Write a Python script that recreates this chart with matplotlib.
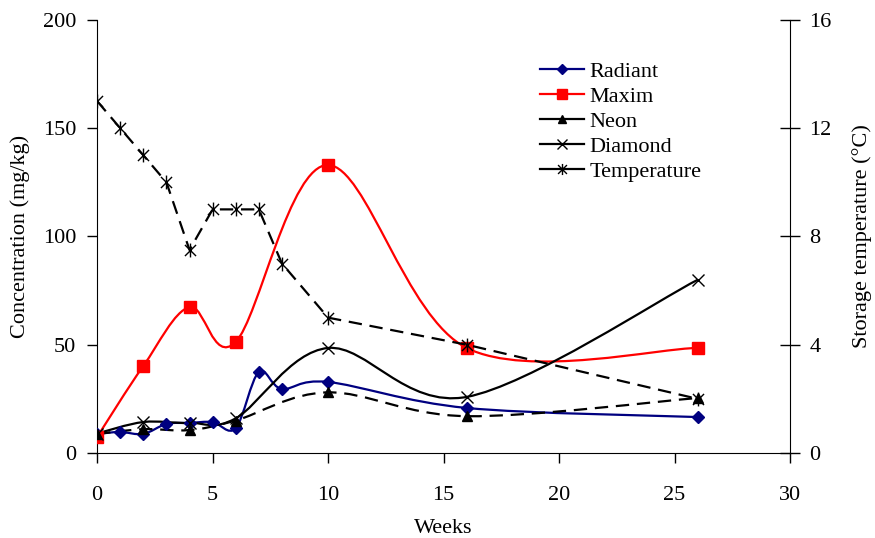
import numpy as np
import matplotlib
matplotlib.use("Agg")
import matplotlib.pyplot as plt
from matplotlib.path import Path
from matplotlib.patches import PathPatch
from matplotlib.lines import Line2D

plt.rcParams['font.family'] = ['Liberation Serif', 'DejaVu Serif']

# Data
radiant_x = [0, 1, 2, 3, 4, 5, 6, 7, 8, 10, 16, 26]
radiant_y = [8.8, 9.7, 8.8, 13.4, 13.9, 14.3, 11.5, 37.4, 29.6, 32.8, 20.8, 16.6]

maxim_x = [0, 2, 4, 6, 10, 16, 26]
maxim_y = [7.4, 40.2, 67.4, 51.3, 133.0, 48.5, 48.5]

neon_x = [0, 2, 4, 6, 10, 16, 26]
neon_y = [8.8, 11.0, 10.6, 15.0, 28.0, 17.0, 25.4]

diamond_x = [0, 2, 4, 6, 10, 16, 26]
diamond_y = [9.0, 14.3, 13.9, 16.0, 48.5, 25.9, 80.0]

temp_x = [0, 1, 2, 3, 4, 5, 6, 7, 8, 10, 16, 26]
temp_y = [13.0, 12.0, 11.0, 10.0, 7.5, 9.0, 9.0, 9.0, 7.0, 5.0, 4.0, 2.0]

x_ticks = [0, 5, 10, 15, 20, 25, 30]
left_ticks = [0, 50, 100, 150, 200]
right_ticks = [0, 4, 8, 12, 16]


def smooth_path(xs, ys):
    P = np.column_stack([xs, ys]).astype(float)
    n = len(P)
    verts = [P[0]]
    codes = [Path.MOVETO]
    for i in range(n - 1):
        p0 = P[i - 1] if i > 0 else P[i]
        p1 = P[i]
        p2 = P[i + 1]
        p3 = P[i + 2] if i + 2 < n else P[i + 1]
        c1 = p1 + (p2 - p0) / 6.0
        c2 = p2 - (p3 - p1) / 6.0
        verts += [c1, c2, p2]
        codes += [Path.CURVE4] * 3
    return Path(verts, codes)


star = Path([(-1, -1), (1, 1), (-1, 1), (1, -1), (0, -1.25), (0, 1.25)],
            [Path.MOVETO, Path.LINETO, Path.MOVETO, Path.LINETO, Path.MOVETO, Path.LINETO])

FS = 16
fig = plt.figure(figsize=(8.75, 5.38), dpi=100)
ax = fig.add_axes([0.111, 0.158, 0.792, 0.805])
ax2 = ax.twinx()

lw = 1.6
dash = (0, (6, 3.5))

ax.add_patch(PathPatch(smooth_path(radiant_x, radiant_y), fill=False, edgecolor='#000080', lw=lw, zorder=3))
ax.plot(radiant_x, radiant_y, ls='none', marker='D', ms=6, color='#000080', zorder=4)

ax.add_patch(PathPatch(smooth_path(maxim_x, maxim_y), fill=False, edgecolor='#ff0000', lw=lw, zorder=3))
ax.plot(maxim_x, maxim_y, ls='none', marker='s', ms=8, color='#ff0000', zorder=4)

ax.add_patch(PathPatch(smooth_path(neon_x, neon_y), fill=False, edgecolor='black', lw=lw, linestyle=dash, zorder=3))
ax.plot(neon_x, neon_y, ls='none', marker='^', ms=7, color='black', zorder=4)

ax.add_patch(PathPatch(smooth_path(diamond_x, diamond_y), fill=False, edgecolor='black', lw=lw, zorder=3))
ax.plot(diamond_x, diamond_y, ls='none', marker='x', ms=8, mew=1.0, color='black', zorder=4)

ax2.plot(temp_x, temp_y, color='black', lw=lw, linestyle=dash, marker=star, ms=10, mew=1.0, zorder=3)

ax.set_xlim(0, 30)
ax.set_ylim(0, 200)
ax2.set_ylim(0, 16)
ax.set_xticks(x_ticks)
ax.set_yticks(left_ticks)
ax2.set_yticks(right_ticks)

for a in (ax, ax2):
    a.spines['top'].set_visible(False)
    a.tick_params(direction='out', length=7, width=1, labelsize=FS)
ax.tick_params(axis='x', pad=17)
ax.tick_params(axis='y', pad=8)
ax2.tick_params(axis='y', direction='inout', length=14, pad=7)
ax.spines['right'].set_visible(False)
ax2.spines['left'].set_visible(False)
ax2.spines['bottom'].set_visible(False)

ax.set_xlabel('Weeks', fontsize=FS)
ax.set_ylabel('Concentration (mg/kg)', fontsize=FS)
ax2.set_ylabel('Storage temperature (°C)', fontsize=FS)
ax.xaxis.set_label_coords(0.5, -0.152)
ax.yaxis.set_label_coords(-0.097, 0.5)
ax2.yaxis.set_label_coords(1.09, 0.5)

handles = [
    Line2D([], [], color='#000080', lw=lw, marker='D', ms=5),
    Line2D([], [], color='#ff0000', lw=lw, marker='s', ms=7),
    Line2D([], [], color='black', lw=lw, marker='^', ms=6),
    Line2D([], [], color='black', lw=lw, marker='x', ms=7, mew=1.0),
    Line2D([], [], color='black', lw=lw, marker=star, ms=8, mew=1.0),
]
labels = ['Radiant', 'Maxim', 'Neon', 'Diamond', 'Temperature']
ax.legend(handles, labels, frameon=False, fontsize=FS, loc='upper left',
          bbox_to_anchor=(0.626, 0.925), handlelength=2.0, handletextpad=0.25,
          labelspacing=0.2, borderaxespad=0)

fig.savefig('out.png', dpi=100)
